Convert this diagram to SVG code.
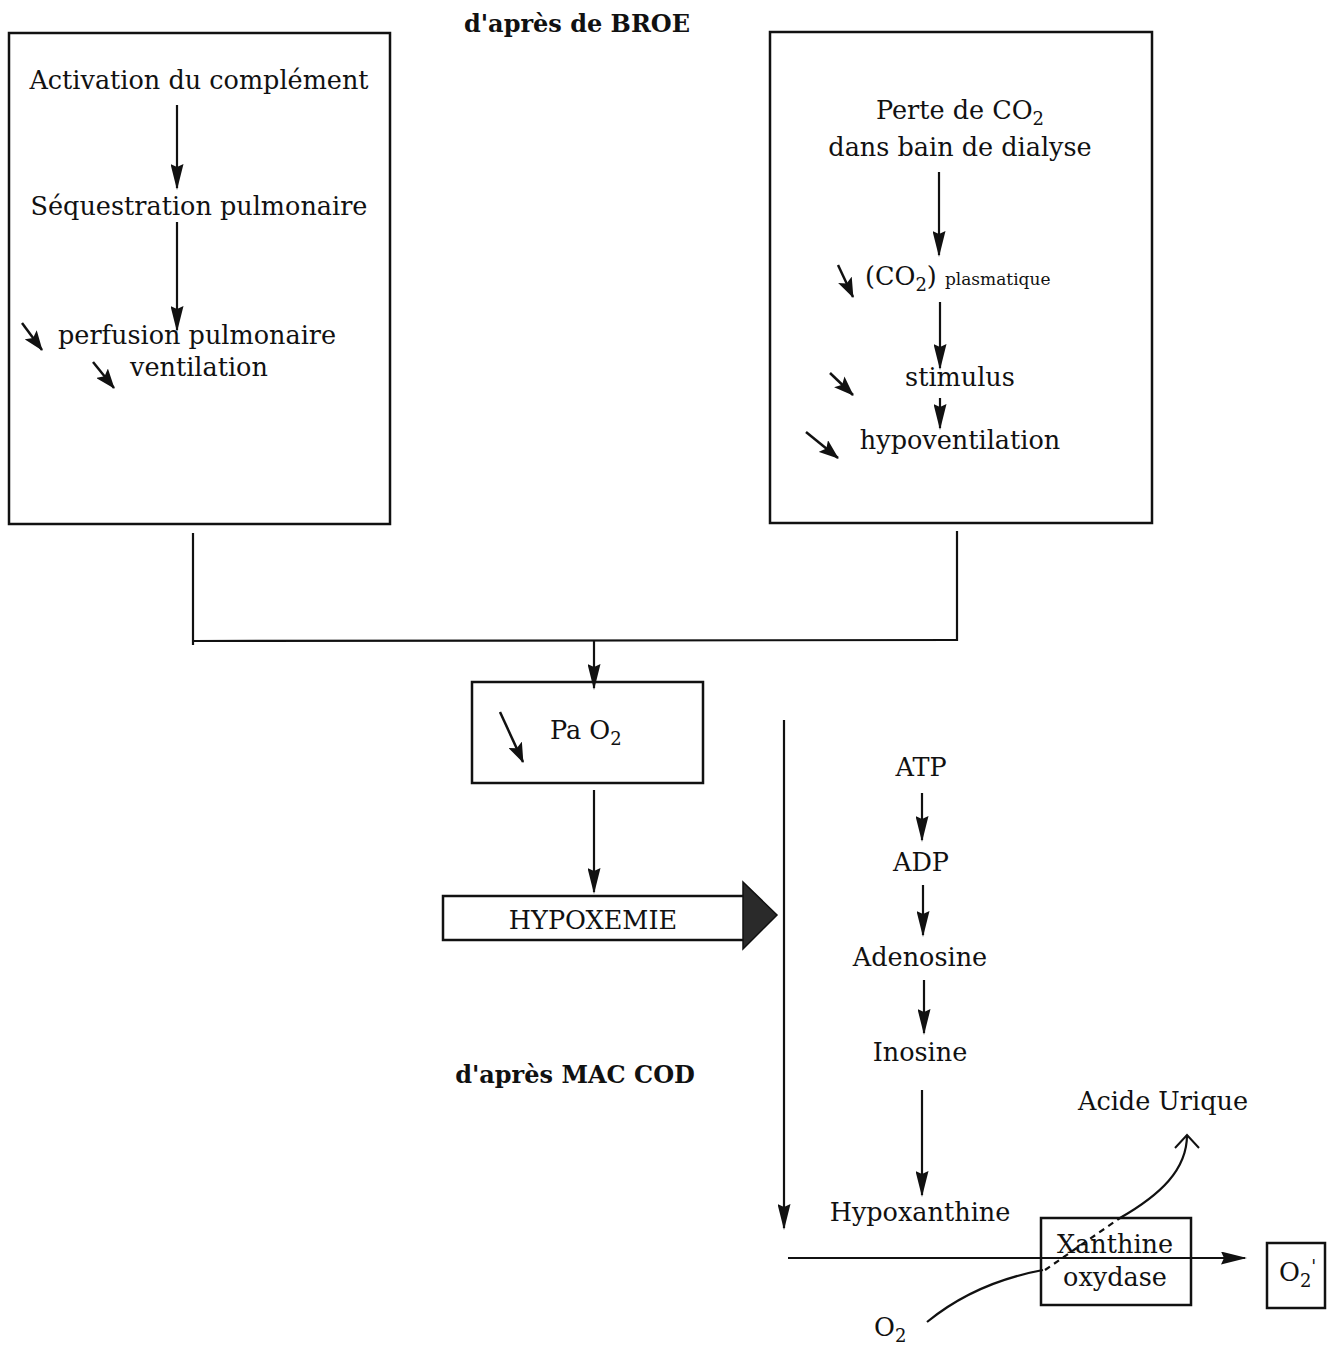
<svg xmlns="http://www.w3.org/2000/svg" width="1335" height="1345" viewBox="0 0 1335 1345">
<style>
text{font-family:"DejaVu Serif","Liberation Serif",serif;font-size:25.5px;fill:#111}
.b{font-weight:bold;font-size:24px}
.box{fill:none;stroke:#111;stroke-width:2.5}
.ln{fill:none;stroke:#111;stroke-width:2.2}
.ar{fill:none;stroke:#111;stroke-width:2.2;marker-end:url(#ah)}
.dg{fill:none;stroke:#111;stroke-width:2.5;marker-end:url(#ahs)}
.sub{font-size:18px}
</style>
<defs>
<marker id="ah" markerUnits="userSpaceOnUse" markerWidth="26" markerHeight="13" refX="24" refY="6.5" viewBox="0 0 26 13" orient="auto">
<path d="M0,0 L26,6.5 L0,13 L3,6.5 Z" fill="#111"/>
</marker>
<marker id="ahs" markerUnits="userSpaceOnUse" markerWidth="20" markerHeight="15" refX="19" refY="7.5" viewBox="0 0 20 15" orient="auto">
<path d="M0,0 L20,7.5 L0,15 L4,7.5 Z" fill="#111"/>
</marker>
<marker id="open" markerUnits="userSpaceOnUse" markerWidth="16" markerHeight="26" refX="14" refY="13" viewBox="0 0 16 26" orient="auto">
<path d="M1,1 L14,13 L1,25" fill="none" stroke="#111" stroke-width="2"/>
</marker>
</defs>

<text class="b" x="577" y="32" text-anchor="middle">d'après de BROE</text>
<text class="b" x="575" y="1083" text-anchor="middle">d'après MAC COD</text>

<g id="broe-left">
<rect class="box" x="9" y="33" width="381" height="491"/>
<text x="199" y="89" text-anchor="middle">Activation du complément</text>
<text x="199" y="215" text-anchor="middle">Séquestration pulmonaire</text>
<text x="58" y="344">perfusion pulmonaire</text>
<text x="130" y="376">ventilation</text>
</g>

<g id="broe-right">
<rect class="box" x="770" y="32" width="382" height="491"/>
<text x="960" y="119" text-anchor="middle">Perte de CO<tspan class="sub" dy="6">2</tspan></text>
<text x="960" y="156" text-anchor="middle">dans bain de dialyse</text>
<text x="865" y="285">(CO<tspan class="sub" dy="6">2</tspan><tspan dy="-6">)</tspan> <tspan style="font-size:17px">plasmatique</tspan></text>
<text x="960" y="386" text-anchor="middle">stimulus</text>
<text x="960" y="449" text-anchor="middle">hypoventilation</text>
</g>

<g id="pao2">
<rect class="box" x="472" y="682" width="231" height="101"/>
<text x="550" y="739">Pa O<tspan class="sub" dy="6">2</tspan></text>
</g>

<g id="hypoxemie">
<rect class="box" x="443" y="896" width="302" height="44"/>
<path d="M743,882 L777,915 L743,949 Z" fill="#2a2a2a" stroke="#111" stroke-width="1.5"/>
<text x="593" y="929" text-anchor="middle">HYPOXEMIE</text>
</g>

<g id="atp"><text x="921" y="776" text-anchor="middle">ATP</text></g>
<g id="adp"><text x="921" y="871" text-anchor="middle">ADP</text></g>
<g id="adenosine"><text x="920" y="966" text-anchor="middle">Adenosine</text></g>
<g id="inosine"><text x="920" y="1061" text-anchor="middle">Inosine</text></g>
<g id="hypoxanthine"><text x="920" y="1221" text-anchor="middle">Hypoxanthine</text></g>
<g id="acide-urique"><text x="1163" y="1110" text-anchor="middle">Acide Urique</text></g>

<g id="xanthine-oxydase">
<rect class="box" x="1041" y="1218" width="150" height="87"/>
<text x="1115" y="1253" text-anchor="middle">Xanthine</text>
<text x="1115" y="1286" text-anchor="middle">oxydase</text>
</g>

<g id="o2-radical">
<rect class="box" x="1267" y="1243" width="58" height="65"/>
<text x="1279" y="1281">O<tspan class="sub" dy="6">2</tspan><tspan dy="-14" class="sub">'</tspan></text>
</g>

<g id="o2"><text x="874" y="1336">O<tspan class="sub" dy="6">2</tspan></text></g>

<g id="connectors">
<line class="ar" x1="177" y1="105" x2="177" y2="188"/>
<line class="ar" x1="177" y1="222" x2="177" y2="330"/>
<line class="dg" x1="22" y1="323" x2="42" y2="350"/>
<line class="dg" x1="93" y1="362" x2="114" y2="388"/>

<line class="ar" x1="939" y1="172" x2="939" y2="255"/>
<line class="dg" x1="838" y1="265" x2="853" y2="297"/>
<line class="ar" x1="940" y1="302" x2="940" y2="368"/>
<line class="dg" x1="830" y1="373" x2="853" y2="395"/>
<line class="ar" x1="940" y1="398" x2="940" y2="428"/>
<line class="dg" x1="806" y1="432" x2="838" y2="458"/>

<polyline class="ln" points="193,533 193,645"/>
<polyline class="ln" points="957,531 957,641"/>
<line class="ln" x1="193" y1="641" x2="957" y2="640"/>
<line class="ar" x1="594" y1="641" x2="594" y2="688"/>

<line class="dg" x1="500" y1="712" x2="523" y2="762"/>
<line class="ar" x1="594" y1="790" x2="594" y2="892"/>

<line class="ar" x1="784" y1="720" x2="784" y2="1228"/>

<line class="ar" x1="922" y1="793" x2="922" y2="840"/>
<line class="ar" x1="923" y1="885" x2="923" y2="935"/>
<line class="ar" x1="924" y1="980" x2="924" y2="1033"/>
<line class="ar" x1="922" y1="1090" x2="922" y2="1195"/>

<line class="ar" x1="788" y1="1258" x2="1245" y2="1258"/>

<path class="ln" d="M927,1322 C960,1295 1000,1278 1043,1270"/>
<path class="ln" d="M1045,1270 L1120,1218" stroke-dasharray="6,5" stroke-width="1.5"/>
<path class="ln" d="M1120,1218 C1160,1195 1187,1170 1187,1135" marker-end="url(#open)"/>
</g>
</svg>
